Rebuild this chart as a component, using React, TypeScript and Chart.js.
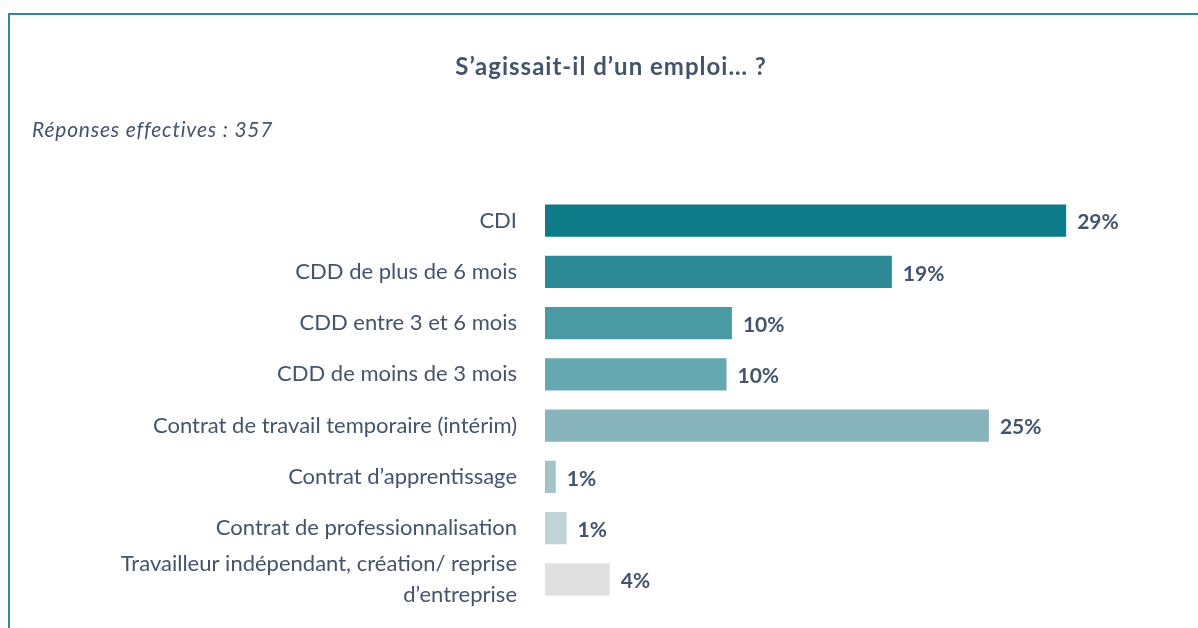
import React, { useEffect, useRef } from "react";
import { Chart, registerables } from "chart.js";

Chart.register(...registerables);

const categories: (string | string[])[] = [
  "CDI",
  "CDD de plus de 6 mois",
  "CDD entre 3 et 6 mois",
  "CDD de moins de 3 mois",
  "Contrat de travail temporaire (intérim)",
  "Contrat d’apprentissage",
  "Contrat de professionnalisation",
  ["Travailleur indépendant, création/ reprise", "d’entreprise"],
];
const values = [29.0, 19.3, 10.4, 10.1, 24.7, 0.6, 1.2, 3.6];
const valueLabels = ["29%", "19%", "10%", "10%", "25%", "1%", "1%", "4%"];
const barColors = [
  "#0f7b89",
  "#2b8a95",
  "#4a9aa4",
  "#66a8b1",
  "#88b5bb",
  "#a3c3c7",
  "#c0d3d6",
  "#e0e0e0",
];
const titleText = "S’agissait-il d’un emploi… ?";
const subtitleText = "Réponses effectives : 357";

const FONT = "Lato, 'Open Sans', sans-serif";
const TEXT = "#44546a";

export default function App() {
  const ref = useRef<HTMLCanvasElement | null>(null);
  useEffect(() => {
    if (!ref.current) return;
    const decor = {
      id: "decor",
      beforeDraw(chart: any) {
        const ctx = chart.ctx;
        ctx.save();
        ctx.fillStyle = "#ffffff";
        ctx.fillRect(0, 0, chart.width, chart.height);
        ctx.fillStyle = "#2a8c99";
        ctx.fillRect(8, 13, 2, chart.height);
        ctx.fillRect(8, 13, chart.width, 2);
        ctx.fillStyle = TEXT;
        ctx.font = `bold 24px ${FONT}`;
        ctx.textAlign = "center";
        ctx.textBaseline = "middle";
        (ctx as any).letterSpacing = "1px";
        ctx.fillText(titleText, 611, 67);
        ctx.font = `italic 21px ${FONT}`;
        (ctx as any).letterSpacing = "0.8px";
        ctx.textAlign = "left";
        ctx.fillText(subtitleText, 32, 130);
        (ctx as any).letterSpacing = "0px";
        ctx.restore();
      },
      afterDatasetsDraw(chart: any) {
        const ctx = chart.ctx;
        const meta = chart.getDatasetMeta(0);
        ctx.save();
        ctx.fillStyle = TEXT;
        ctx.font = `bold 21px ${FONT}`;
        ctx.textAlign = "left";
        ctx.textBaseline = "middle";
        meta.data.forEach((bar: any, i: number) => {
          ctx.fillText(valueLabels[i], bar.x + 11, bar.y + 2);
        });
        ctx.restore();
      },
    };
    const chart = new Chart(ref.current, {
      type: "bar",
      data: {
        labels: categories,
        datasets: [
          {
            data: values,
            backgroundColor: barColors,
            borderWidth: 0,
            barPercentage: 0.63,
            categoryPercentage: 1,
          },
        ],
      },
      options: {
        indexAxis: "y",
        animation: false,
        responsive: false,
        layout: { padding: { top: 195, bottom: 23, left: 0, right: 24 } },
        plugins: {
          legend: { display: false },
          tooltip: { enabled: false },
          title: { display: false },
        },
        scales: {
          x: {
            display: false,
            min: 0,
            max: 35,
          },
          y: {
            grid: { display: false, drawTicks: false },
            border: { display: false },
            ticks: {
              color: TEXT,
              autoSkip: false,
              font: { family: FONT, size: 22, lineHeight: 1.42 },
              padding: 28,
            },
            afterFit(scale: any) {
              scale.width = 545;
              scale.paddingTop = 0;
              scale.paddingBottom = 0;
            },
          },
        },
      },
      plugins: [decor],
    });
    return () => chart.destroy();
  }, []);
  return (
    <div style={{ position: "fixed", left: 0, top: 0, width: 1198, height: 628 }}>
      <canvas ref={ref} width={1198} height={628} style={{ display: "block" }} />
    </div>
  );
}
